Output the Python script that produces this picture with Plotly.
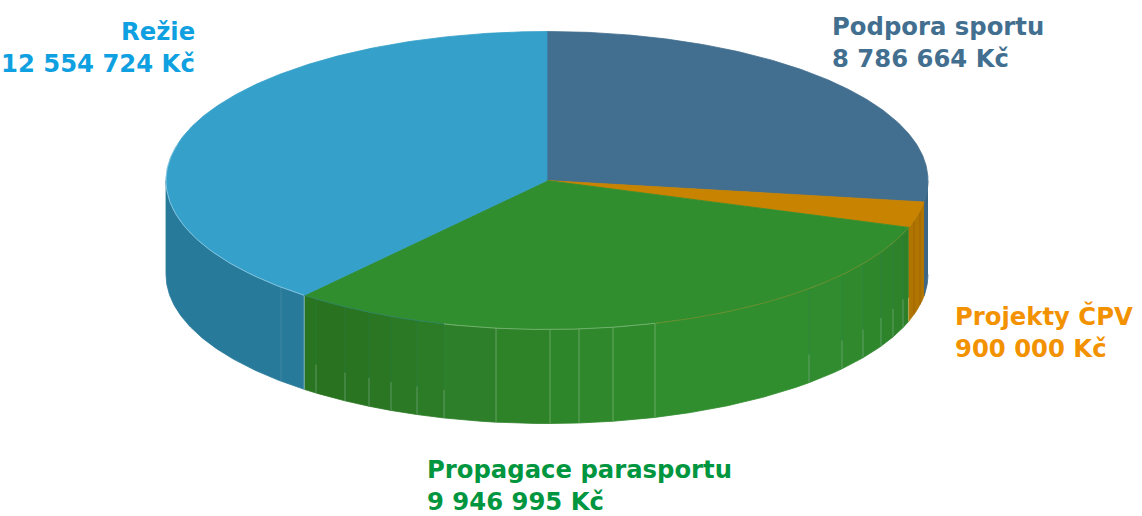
import numpy as np
import plotly.graph_objects as go

# --- data ---
labels = ["Podpora sportu", "Projekty ČPV", "Propagace parasportu", "Režie"]
values = [8786664, 900000, 9946995, 12554724]

# --- styles ---
top_colors = ["#426F8F", "#C88300", "#318E2F", "#35A0C9"]
side_colors = ["#3A6685", "#B07400", "#318C2E", "#287A9A"]
label_colors = ["#426F8F", "#F39200", "#009640", "#0EA0E0"]
label_pos = [(830, 26, "left"), (953, 316, "left"), (425, 469, "left"), (197, 31, "right")]
LINE_GAP = 32
FONT = "DejaVu Sans"
FONT_SIZE = 24.3

# --- pie geometry (px of the 1142x516 canvas) ---
CX, CY, RX, RY, DEPTH = 547, 180.5, 381, 149, 94

# facet seams on the rim, and the facet shades between them
green_seams = [316, 345, 369, 391, 417, 444, 496, 550, 579, 613, 655, 809, 842, 863, 881, 893, 903]
green_shades = ["#297420", "#297320", "#297421", "#2A7623", "#2B7825", "#2C7B26", "#2D8029", "#2E8329",
                "#2E862A", "#2F882B", "#2F8A2C", "#318E2F", "#308C2E", "#308A2D", "#2F872C", "#2E842A",
                "#2E8229", "#2D7F28"]
blue_seams = [281]
orange_seams = [914, 920]


def ex(t):
    return CX + RX * np.sin(t)


def ey(t):
    return CY - RY * np.cos(t)


def t_at_x(x):
    """Front-rim angle (90..270 deg) for a canvas x."""
    return np.pi - np.arcsin((x - CX) / RX)


fracs = np.array(values) / sum(values)
edges = np.concatenate([[0], np.cumsum(fracs)]) * 2 * np.pi

fig = go.Figure()


def poly(x, y, color):
    fig.add_trace(go.Scatter(x=x, y=y, mode="lines", fill="toself", fillcolor=color,
                             line=dict(color=color, width=0.8), hoverinfo="skip", showlegend=False))


def rim(t0, t1, color):
    t = np.linspace(t0, t1, max(int((t1 - t0) * 160), 3))
    x = np.concatenate([ex(t), ex(t[::-1])])
    y = np.concatenate([ey(t), ey(t[::-1]) + DEPTH])
    poly(x, y, color)


def seam(t, color, y_frac=0.0):
    fig.add_trace(go.Scatter(x=[ex(t), ex(t)], y=[ey(t) + DEPTH * y_frac, ey(t) + DEPTH], mode="lines",
                             line=dict(color=color, width=1), hoverinfo="skip", showlegend=False))


def edge(t0, t1, color):
    t = np.linspace(t0, t1, 80)
    fig.add_trace(go.Scatter(x=ex(t), y=ey(t), mode="lines", line=dict(color=color, width=0.8),
                             hoverinfo="skip", showlegend=False))


# rims: only the front half (90..270 deg) shows
FRONT0, FRONT1 = np.pi / 2, 3 * np.pi / 2
rim(FRONT0, edges[1], side_colors[0])
rim(edges[1], edges[2], side_colors[1])
green_ts = sorted([edges[2], edges[3]] + [t_at_x(x) for x in green_seams])
for i in range(len(green_ts) - 1):
    rim(green_ts[i], green_ts[i + 1], green_shades[::-1][i])
rim(edges[3], FRONT1, side_colors[3])

# facet seams
for x in green_seams:
    if x < 460 or x > 800:
        seam(t_at_x(x), "rgba(40,125,90,0.35)")
        seam(t_at_x(x), "rgba(190,215,185,0.35)", 0.7)
    else:
        seam(t_at_x(x), "rgba(190,215,185,0.38)")
for x in blue_seams:
    seam(t_at_x(x), "rgba(120,170,190,0.25)")
for x in orange_seams:
    seam(t_at_x(x), "rgba(150,90,0,0.6)")
seam(edges[3], "rgba(170,205,225,0.7)")
seam(edges[2], "rgba(230,190,110,0.7)", 0.75)

# top faces
for i in range(len(values)):
    t = np.linspace(edges[i], edges[i + 1], max(int((edges[i + 1] - edges[i]) * 160), 8))
    poly(np.concatenate([[CX], ex(t), [CX]]), np.concatenate([[CY], ey(t), [CY]]), top_colors[i])

# rim highlights
edge(edges[3], FRONT1 + 0.25, "rgba(190,225,240,0.7)")
edge(t_at_x(655), t_at_x(444), "rgba(190,220,185,0.55)")
edge(edges[2] + 0.01, t_at_x(655), "rgba(190,140,40,0.45)")
edge(t_at_x(444), edges[3], "rgba(40,120,140,0.6)")

# labels
ann = []
for name, v, col, (x, y, al) in zip(labels, values, label_colors, label_pos):
    lines = [name, f"{v:,}".replace(",", " ") + " Kč"]
    for k, txt in enumerate(lines):
        ann.append(dict(x=x, y=y + k * LINE_GAP, text=f"<b>{txt}</b>", showarrow=False, xref="x", yref="y",
                        xanchor=al, yanchor="middle", xshift=0, align=al,
                        font=dict(family=FONT, size=FONT_SIZE, color=col)))

fig.update_layout(
    width=1142, height=516, margin=dict(l=0, r=0, t=0, b=0),
    paper_bgcolor="white", plot_bgcolor="white", showlegend=False, annotations=ann,
    xaxis=dict(range=[0, 1142], visible=False, fixedrange=True),
    yaxis=dict(range=[516, 0], visible=False, fixedrange=True),
)
fig.write_html("out.html", config={"displayModeBar": False},
               post_script="document.body.style.margin='0';")
